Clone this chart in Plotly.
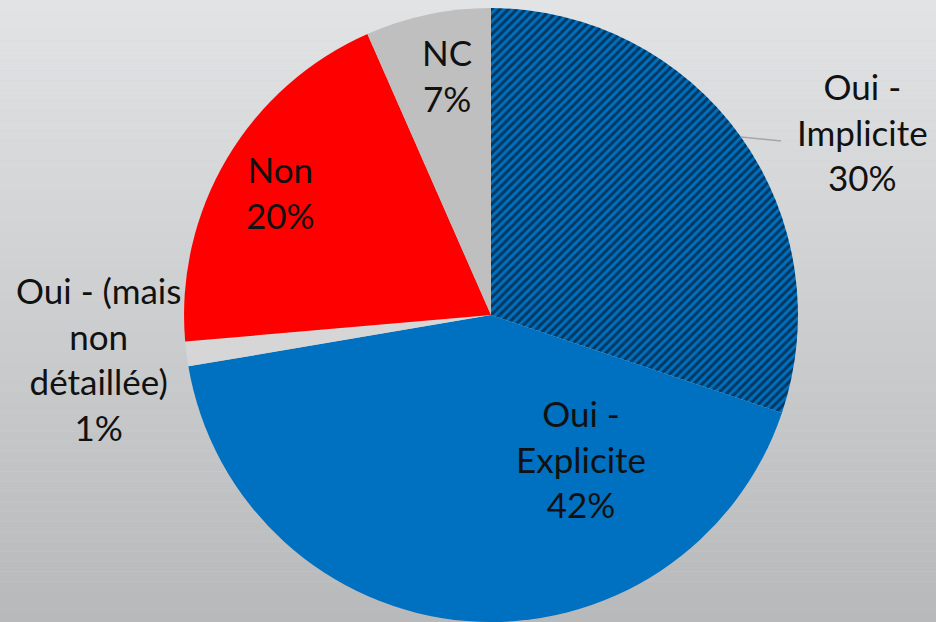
import plotly.graph_objects as go

W, H = 936, 622

LABELS = ["Oui - Implicite", "Oui - Explicite", "Oui - (mais non détaillée)", "Non", "NC"]
TEXT_LINES = [
    ["Oui -", "Implicite"],
    ["Oui -", "Explicite"],
    ["Oui - (mais", "non", "détaillée)"],
    ["Non"],
    ["NC"],
]
VALUES = [30.2, 42.2, 1.3, 19.8, 6.6]
COLORS = ["#0070C0", "#0070C0", "#D6D6D6", "#FF0000", "#BFBFBF"]
PATTERNS = ["/", "", "", "", ""]

# label centres in pixels (x, y from top)
LABEL_POS = [(862, 131), (581, 458), (98, 358), (280, 192), (447, 75)]


def _grad(t):
    top = (226, 227, 229)
    bot = (184, 185, 186)
    c = [round(a + (b - a) * t) for a, b in zip(top, bot)]
    return f"rgb({c[0]},{c[1]},{c[2]})"


fig = go.Figure(
    go.Pie(
        labels=LABELS,
        values=VALUES,
        sort=False,
        direction="clockwise",
        rotation=0,
        textinfo="none",
        hoverinfo="label+percent",
        marker=dict(
            colors=COLORS,
            line=dict(width=0),
            pattern=dict(
                shape=PATTERNS,
                fgcolor="#000000",
                bgcolor=COLORS,
                size=6,
                solidity=0.5,
                fillmode="overlay",
            ),
        ),
        domain=dict(x=[(491 - 307) / W, (491 + 307) / W], y=[0, 0.987]),
    )
)

# gradient background as thin bands
shapes = []
n = 62
for i in range(n):
    shapes.append(
        dict(
            type="rect", xref="paper", yref="paper",
            x0=0, x1=1, y0=1 - (i + 1) / n, y1=1 - i / n,
            fillcolor=_grad(i / (n - 1)), line=dict(width=0), layer="below",
        )
    )
# leader line for the Implicite label
shapes.append(
    dict(
        type="line", xref="paper", yref="paper",
        x0=741 / W, y0=1 - 137 / H, x1=781 / W, y1=1 - 141 / H,
        line=dict(color="#A6A6A6", width=1.5), layer="above",
    )
)

total = sum(VALUES)
annotations = []
for lines, v, (px, py) in zip(TEXT_LINES, VALUES, LABEL_POS):
    text = "<br>".join(lines + [f"{round(v / total * 100)}%"])
    annotations.append(
        dict(
            text=text, x=px / W, y=1 - py / H, xref="paper", yref="paper",
            showarrow=False, xanchor="center", yanchor="middle", align="center",
            font=dict(family="Lato, Open Sans, sans-serif", size=35, color="#111111"),
        )
    )

fig.update_layout(
    width=W,
    height=H,
    margin=dict(l=0, r=0, t=0, b=0),
    paper_bgcolor="#D0D1D2",
    plot_bgcolor="#D0D1D2",
    showlegend=False,
    shapes=shapes,
    annotations=annotations,
)

fig.write_html(
    "out.html",
    config={"displayModeBar": False},
    post_script="document.body.style.margin='0';",
)
